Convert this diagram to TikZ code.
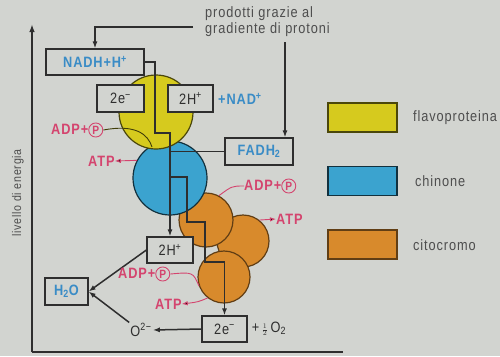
\documentclass[tikz,border=0pt]{standalone}
\usepackage{fontspec}
\setmainfont{Liberation Sans}
\newfontfamily\cf[FakeStretch=0.85,LetterSpace=6]{Liberation Sans}
\usetikzlibrary{arrows.meta}
\definecolor{bg}{HTML}{D2D4D0}
\definecolor{yel}{HTML}{D6CA1E}
\definecolor{blu}{HTML}{3BA3CF}
\definecolor{ora}{HTML}{D88A2C}
\definecolor{pinkc}{HTML}{D4446E}
\definecolor{tblue}{HTML}{3A8CC6}
\definecolor{ink}{HTML}{2E2E2E}
\definecolor{gtext}{HTML}{4E4E4E}
\newcommand\circP{\tikz[baseline=(cp.base)]\node[circle,draw=pinkc,line width=0.9pt,inner sep=1.2pt,text=pinkc,font=\cf\fontsize{12}{12}\selectfont](cp){P};}
\begin{document}
\begin{tikzpicture}[x=1pt,y=-1pt,
 font=\cf\fontsize{15}{16}\selectfont,
 box/.style={draw=ink,line width=1.2pt,fill=bg,inner sep=0pt,text=ink},
 btxt/.style={text=tblue,font=\cf\bfseries\fontsize{15}{16}\selectfont},
 lbl/.style={font=\cf\bfseries\fontsize{15}{15}\selectfont,text=pinkc,inner sep=0pt},
 ln/.style={draw=ink,line width=1.5pt},
 arr/.style={ln,-{Latex[length=7pt,width=5pt]}},
 pl/.style={draw=pinkc,line width=0.9pt},
 parr/.style={pl,-{Latex[length=6pt,width=4.5pt]}},
 ball/.style={circle,line width=1.2pt,inner sep=0pt},
 leg/.style={line width=1.2pt,minimum width=69pt,minimum height=29pt,inner sep=0pt}
]
\fill[bg] (0,0) rectangle (500,356);
\useasboundingbox (0,0) rectangle (500,356);

% axes
\coordinate (origin) at (32,352);
\coordinate (ytop) at (32,24);
\coordinate (xend) at (343,352);
\draw[ink,line width=1.7pt,-{Latex[length=8pt,width=5.5pt]}] (origin) -- (ytop);
\draw[ink,line width=1.7pt] (origin) -- (xend);
\node[rotate=90,text=gtext,font=\cf\fontsize{12.5}{13}\selectfont] (axl) at (18,193) {livello di energia};

% circles
\node[ball,draw=ora!45!black,fill=ora,minimum size=52pt] (oc2) at (243,241) {};
\node[ball,draw=ora!45!black,fill=ora,minimum size=52pt] (oc3) at (224,277) {};
\node[ball,draw=ora!45!black,fill=ora,minimum size=54pt] (oc1) at (206,220) {};
\node[ball,draw=blu!30!black,fill=blu,minimum size=74pt] (qb) at (170,178) {};
\node[ball,draw=yel!35!black,fill=yel,minimum size=74pt] (fy) at (156,112) {};

% boxes
\node[box,btxt,minimum width=98pt,minimum height=26pt] (nadh) at (95,62) {NADH+H\textsuperscript{+}};
\node[box,minimum width=47pt,minimum height=27pt] (e2t) at (120.5,98.5) {2e\textsuperscript{−}};
\node[box,minimum width=45pt,minimum height=27pt] (h2t) at (190.5,98.5) {2H\textsuperscript{+}};
\node[btxt,anchor=west,inner sep=0pt] (nad) at (218,99) {+NAD\textsuperscript{+}};
\node[box,btxt,minimum width=68pt,minimum height=27pt] (fadh) at (259,151.5) {FADH\textsubscript{2}};
\node[box,minimum width=46pt,minimum height=26pt] (h2b) at (170,250) {2H\textsuperscript{+}};
\node[box,btxt,minimum width=43pt,minimum height=27pt] (h2o) at (66.5,291.5) {H\textsubscript{2}O};
\node[box,minimum width=45pt,minimum height=26pt] (e2b) at (224.5,329) {2e\textsuperscript{−}};
\node[anchor=west,text=ink,inner sep=0pt] (half) at ([xshift=4pt]e2b.east) {+\,{\fontsize{10}{10}\selectfont$\frac{1}{2}$}\,O\textsubscript{2}};
\node[text=ink,inner sep=1pt] (o2) at (141,330) {O\textsuperscript{2−}};

% top text and arrows
\node[anchor=north west,align=left,text=gtext,inner sep=0pt,font=\cf\fontsize{15}{16}\selectfont] (prod) at (205,6) {prodotti grazie al\\gradiente di protoni};
\coordinate (pa) at (193,27);
\coordinate (pf) at (285,42);
\draw[arr] (pa) -| (nadh.north);
\draw[arr] (pf) -- (pf |- fadh.north);

% electron path
\draw[arr] (nadh.east) -- (155,62) -- (155,133) -- (170,133) -- (170,177) -- (187,177) -- (187,222) -- (205,222) -- (205,262) -- (224.5,262) -- (e2b.north);
\draw[arr] (170,175) -- (h2b.north);
\draw[ln] (fadh.west) -- (170,151.5);
\draw[arr] (h2b.west) -- (h2o.east);
\draw[arr] (o2.north west) -- (h2o.east);
\draw[arr] (e2b.west) -- (o2.east);

% ADP / ATP labels
\node[lbl,anchor=west] (adp1) at (51,130) {ADP+\circP};
\node[lbl,anchor=west] (atp1) at (88,161) {ATP};
\node[lbl,anchor=west] (adp2) at (244,186) {ADP+\circP};
\node[lbl,anchor=west] (atp2) at (276,219) {ATP};
\node[lbl,anchor=west] (adp3) at (118,274) {ADP+\circP};
\node[lbl,anchor=west] (atp3) at (155,304) {ATP};
\coordinate (a1) at (152,147);
\draw[draw=yel!30!black,line width=0.9pt] (adp1.east) .. controls (135,124) and (148,134) .. (a1);
\draw[parr] (qb.152) -- (atp1.east);
\draw[pl] (adp2.west) .. controls (232,186) .. (oc1.62);
\draw[parr] (oc2.52) -- (atp2.west);
\draw[pl] (adp3.east) .. controls (193,272) .. (oc3.200);
\draw[parr] (oc3.232) .. controls (198,302) .. (atp3.east);

% legend
\node[leg,draw=yel!35!black,fill=yel] (ly) at (362.5,117.5) {};
\node[leg,draw=blu!30!black,fill=blu] (lb) at (362.5,181) {};
\node[leg,draw=ora!45!black,fill=ora] (lo) at (362.5,244.5) {};
\node[anchor=west,text=gtext,inner sep=0pt] (tly) at (413,118) {flavoproteina};
\node[anchor=west,text=gtext,inner sep=0pt] (tlb) at (415,181) {chinone};
\node[anchor=west,text=gtext,inner sep=0pt] (tlo) at (413,245) {citocromo};
\end{tikzpicture}
\end{document}
